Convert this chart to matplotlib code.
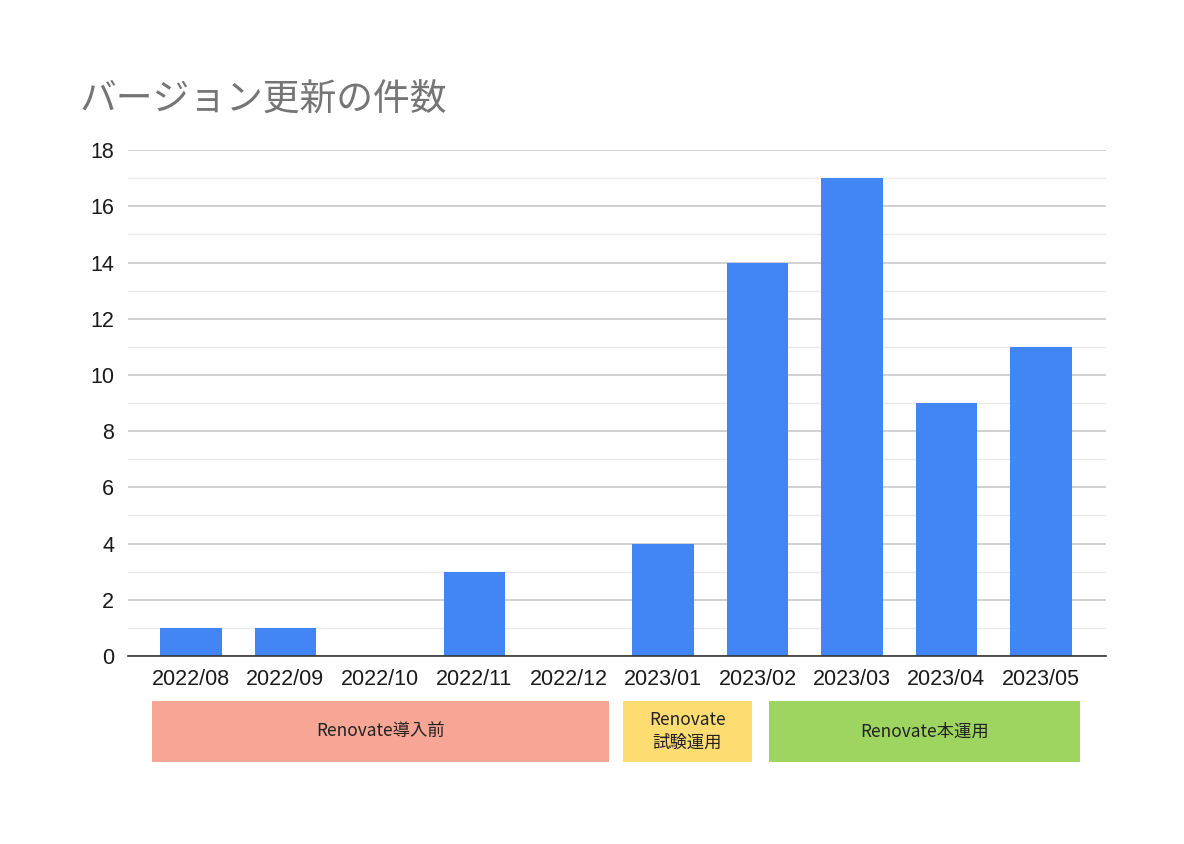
import matplotlib.pyplot as plt
from matplotlib.patches import Rectangle
from matplotlib.ticker import MultipleLocator

plt.rcParams['font.family'] = ['Liberation Sans', 'Noto Sans CJK JP', 'DejaVu Sans']

months = ["2022/08", "2022/09", "2022/10", "2022/11", "2022/12",
          "2023/01", "2023/02", "2023/03", "2023/04", "2023/05"]
counts = [1, 1, 0, 3, 0, 4, 14, 17, 9, 11]

phase_labels = ["Renovate導入前", "Renovate\n試験運用", "Renovate本運用"]
phase_colors = ["#F7A595", "#FDDC71", "#9DD560"]

fig = plt.figure(figsize=(11.84, 8.44), dpi=100)
ax = fig.add_axes([0.1081, 0.2227, 0.826, 0.5995])

x = range(len(months))
ax.bar(x, counts, width=0.65, color="#4285F4", zorder=3)

ax.set_xlim(-0.667, 9.69)
ax.set_ylim(0, 18)
ax.set_xticks(list(x))
ax.set_xticklabels(months)
ax.yaxis.set_major_locator(MultipleLocator(2))
ax.yaxis.set_minor_locator(MultipleLocator(1))
ax.grid(axis="y", which="major", color="#C8C8C8", linewidth=1.2, zorder=0)
ax.grid(axis="y", which="minor", color="#EBEBEB", linewidth=1.0, zorder=0)
ax.tick_params(axis="both", which="both", length=0, labelsize=15.5, colors="#1a1a1a")
ax.tick_params(axis="x", pad=9)
ax.tick_params(axis="y", pad=10)
for s in ["top", "right", "left"]:
    ax.spines[s].set_visible(False)
ax.spines["bottom"].set_color("#333333")
ax.spines["bottom"].set_linewidth(1.2)
ax.spines["bottom"].set_zorder(4)

fig.text(0.0676, 0.881, "バージョン更新の件数", fontsize=26.5, color="#757575",
         family=["Noto Sans CJK JP", "DejaVu Sans"], va="center", ha="left")

# phase boxes below the axis
boxes = [(0.1284, 0.386), (0.5262, 0.109), (0.6495, 0.2627)]
for (bx, bw), lab, col in zip(boxes, phase_labels, phase_colors):
    fig.add_artist(Rectangle((bx, 0.0972), bw, 0.0723, transform=fig.transFigure,
                             facecolor=col, edgecolor="none"))
    fig.text(bx + bw / 2, 0.0972 + 0.0723 / 2, lab, ha="center", va="center",
             fontsize=12.5, color="#222222", linespacing=1.3,
             family=["Noto Sans CJK JP", "DejaVu Sans"])

plt.savefig("out.png", dpi=100)
plt.close()
